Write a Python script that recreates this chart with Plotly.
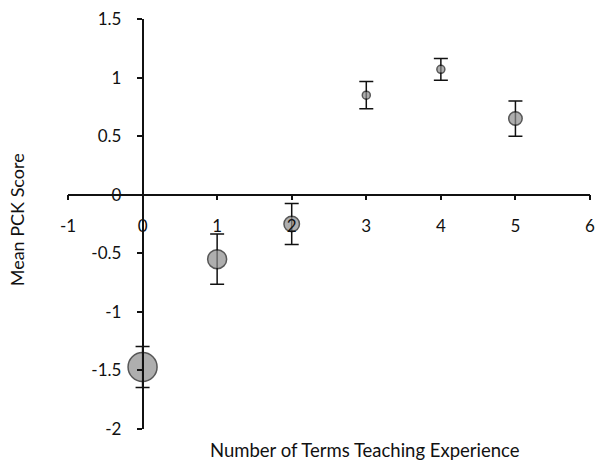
import plotly.graph_objects as go

# Mean PCK score by number of terms of teaching experience
terms = [0, 1, 2, 3, 4, 5]
mean_pck = [-1.47, -0.55, -0.25, 0.85, 1.07, 0.65]
err = [0.175, 0.215, 0.175, 0.117, 0.093, 0.15]
# marker diameter reflects group size
marker_size = [29, 19, 15.5, 8, 8, 13.5]

x_ticks = [-1, 0, 1, 2, 3, 4, 5, 6]
x_ticktext = ["-1", "0", "1", "2", "3", "4", "5", "6"]
y_ticks = [-2, -1.5, -1, -0.5, 0, 0.5, 1, 1.5]
y_ticktext = ["-2", "-1.5", "-1", "-0.5", "0", "0.5", "1", "1.5"]

FONT = "Lato, Carlito, Calibri, sans-serif"

fig = go.Figure()
fig.add_trace(go.Scatter(
    x=terms, y=mean_pck, mode="markers",
    marker=dict(size=marker_size, color="#8c8c8c",
                line=dict(color="#111111", width=1.5)),
    error_y=dict(type="data", array=err, visible=True,
                 color="#111111", thickness=1.5, width=7),
    showlegend=False, hoverinfo="x+y",
))

fig.update_layout(
    width=600, height=464,
    margin=dict(l=68, r=5, t=19, b=35),
    paper_bgcolor="white", plot_bgcolor="white",
    font=dict(family=FONT, size=17, color="#111111"),
    xaxis=dict(
        range=[-1, 6], tickvals=x_ticks, ticktext=x_ticktext,
        anchor="free", position=2 / 3.5,
        showline=True, linecolor="#111111", linewidth=1.5,
        ticks="outside", ticklen=5, tickwidth=1.5, tickcolor="#111111",
        ticklabelstandoff=11, ticklabeloverflow="allow",
        showgrid=False, zeroline=False,
    ),
    yaxis=dict(
        range=[-2, 1.5], tickvals=y_ticks, ticktext=y_ticktext,
        anchor="free", position=1 / 7,
        showline=True, linecolor="#111111", linewidth=1.5,
        ticks="outside", ticklen=5, tickwidth=1.5, tickcolor="#111111",
        ticklabelstandoff=12, ticklabeloverflow="allow",
        showgrid=False, zeroline=False,
    ),
    annotations=[
        dict(text="Number of Terms Teaching Experience", xref="paper", yref="paper",
             x=0.569, y=-0.084, showarrow=False, xanchor="center", yanchor="bottom",
             font=dict(family=FONT, size=18.5)),
        dict(text="Mean PCK Score", xref="paper", yref="paper",
             x=-0.097, y=0.51, showarrow=False, textangle=-90,
             xanchor="center", yanchor="middle",
             font=dict(family=FONT, size=18)),
    ],
)

fig.write_html("out.html")
